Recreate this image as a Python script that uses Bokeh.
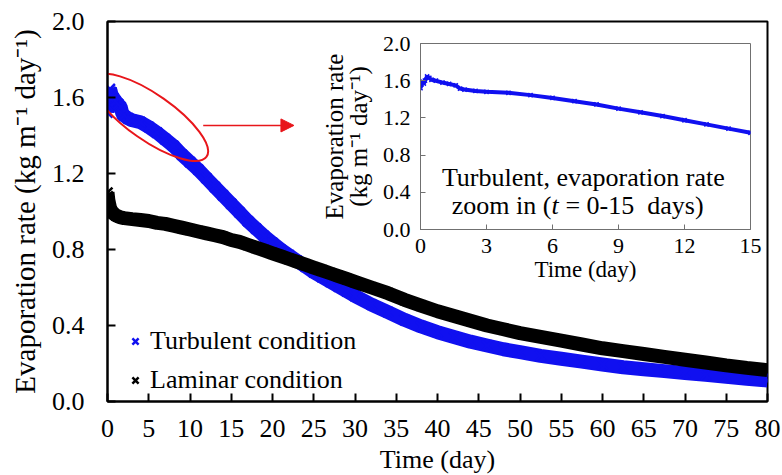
from bokeh.plotting import figure
from bokeh.models import (Range1d, FixedTicker, NumeralTickFormatter, Legend, LegendItem,
                          Label, Arrow, NormalHead, GridBox)
from bokeh.embed import file_html
from bokeh.resources import INLINE

# Evaporation rate (kg m^-1 day^-1) versus time (day)
turb_t = [0, 0.05, 0.1, 0.15, 0.2, 0.3, 0.4, 0.5, 0.7, 1.0, 1.3, 1.6, 1.8, 2.0, 2.5,
          3, 4, 5, 6, 7, 8, 9, 10, 11, 12, 13, 14, 15, 16, 17, 18, 19, 20,
          21, 22, 23, 24, 25, 26, 27, 28, 29, 30, 32, 34, 36, 38, 40, 42, 44, 46,
          48, 50, 52.5, 55, 57.5, 60, 62.5, 65, 67.5, 70, 72.5, 75, 77.5, 80]
turb_rate = [1.52, 1.56, 1.59, 1.57, 1.60, 1.645, 1.63, 1.61, 1.60, 1.58, 1.565, 1.55, 1.515, 1.505, 1.49,
             1.48, 1.47, 1.445, 1.415, 1.38, 1.345, 1.30, 1.26, 1.22, 1.175, 1.13, 1.085, 1.04, 0.995, 0.95, 0.91, 0.87, 0.835,
             0.80, 0.77, 0.74, 0.71, 0.68, 0.655, 0.63, 0.605, 0.58, 0.555, 0.51, 0.47, 0.43, 0.395, 0.365, 0.34, 0.315, 0.295,
             0.275, 0.26, 0.24, 0.225, 0.21, 0.195, 0.18, 0.17, 0.16, 0.15, 0.14, 0.13, 0.12, 0.11]

lam_t = [0, 0.05, 0.1, 0.2, 0.3, 0.5, 0.7, 1, 1.5, 2, 3, 4, 5, 6, 7, 8, 9, 10,
         11, 12, 13, 14, 15, 16, 17, 18, 19, 20, 21, 22, 23, 24, 25, 26, 27, 28, 29, 30,
         32, 34, 36, 38, 40, 42, 44, 46, 48, 50, 52.5, 55, 57.5, 60, 62.5, 65, 67.5, 70,
         72.5, 75, 77.5, 80]
lam_rate = [1.10, 1.08, 1.06, 1.04, 1.02, 1.00, 0.99, 0.98, 0.97, 0.965, 0.96, 0.955, 0.95, 0.94, 0.935, 0.925, 0.915, 0.905,
            0.895, 0.885, 0.875, 0.865, 0.85, 0.84, 0.825, 0.81, 0.795, 0.78, 0.765, 0.75, 0.735, 0.72, 0.705, 0.69, 0.675, 0.66, 0.645, 0.63,
            0.60, 0.57, 0.535, 0.505, 0.475, 0.45, 0.425, 0.40, 0.38, 0.36, 0.34, 0.32, 0.30, 0.28, 0.265, 0.25, 0.235, 0.22,
            0.205, 0.19, 0.177, 0.165]

x_ticks = list(range(0, 81, 5))
y_ticks = [0.0, 0.4, 0.8, 1.2, 1.6, 2.0]
inset_x_ticks = [0, 3, 6, 9, 12, 15]
inset_t_max = 15

series_names = ["Turbulent condition", "Laminar condition"]
BLUE = "#1010f0"
BLACK = "#000000"
RED = "#e8161b"
FONT = "Liberation Serif"

# Highlight ellipse and pointer toward the zoomed panel (data position, screen size)
zoom_center = (5.2, 1.495)
zoom_size = (137, 46)
zoom_angle = -0.61
pointer_from = (11.6, 1.453)
pointer_to = (22.6, 1.453)

# Both panels share one grid cell, which aligns their frame borders, so they get equal borders
BORDERS = dict(min_border_left=107, min_border_right=15, min_border_top=21, min_border_bottom=74)


def style_axes(fig, tick_size, label_size, tick_len, axis_color, axis_width):
    for ax in (fig.xaxis[0], fig.yaxis[0]):
        ax.major_label_text_font = FONT
        ax.axis_label_text_font = FONT
        ax.major_label_text_font_size = tick_size
        ax.axis_label_text_font_size = label_size
        ax.axis_label_text_font_style = "normal"
        ax.major_label_text_color = "#000000"
        ax.axis_label_text_color = "#000000"
        ax.major_tick_in = tick_len
        ax.major_tick_out = 0
        ax.minor_tick_in = 0
        ax.minor_tick_out = 0
        ax.axis_line_color = axis_color
        ax.axis_line_width = axis_width
        ax.major_tick_line_color = axis_color
        ax.major_tick_line_width = axis_width


# ---------------- main panel ----------------
p = figure(frame_width=660, frame_height=380, output_backend="svg", toolbar_location=None,
           x_range=Range1d(0, 80), y_range=Range1d(0, 2.0), align="start", **BORDERS)
p.xgrid.visible = False
p.ygrid.visible = False
p.outline_line_color = "#000000"
p.outline_line_width = 2
p.background_fill_color = "white"
p.border_fill_color = "white"

p.line(turb_t, turb_rate, line_color=BLUE, line_width=14)
turb_pts = p.scatter(turb_t, turb_rate, marker="x", size=14, line_color=BLUE, line_width=2.5)
p.line(lam_t, lam_rate, line_color=BLACK, line_width=14)
lam_pts = p.scatter(lam_t, lam_rate, marker="x", size=14, line_color=BLACK, line_width=2.5)

p.xaxis.ticker = FixedTicker(ticks=x_ticks)
p.yaxis.ticker = FixedTicker(ticks=y_ticks)
p.yaxis.formatter = NumeralTickFormatter(format="0.0")
p.xaxis.axis_label = "Time (day)"
p.yaxis.axis_label = "Evaporation rate (kg m\u207b\u00b9 day\u207b\u00b9)"
style_axes(p, "26px", "26px", 8, "#000000", 2)
p.yaxis.axis_label_text_font_size = "29px"
p.xaxis.major_label_standoff = 18
p.yaxis.major_label_standoff = 23
p.xaxis.axis_label_standoff = 5
p.yaxis.axis_label_standoff = 8

p.ellipse(x=[zoom_center[0]], y=[zoom_center[1]], width=zoom_size[0], height=zoom_size[1],
          angle=zoom_angle, width_units="screen", height_units="screen",
          fill_alpha=0, line_color=RED, line_width=2)
p.add_layout(Arrow(end=NormalHead(size=13, fill_color=RED, line_color=RED),
                   x_start=pointer_from[0], y_start=pointer_from[1],
                   x_end=pointer_to[0], y_end=pointer_to[1],
                   line_color=RED, line_width=1.5))

legend = Legend(items=[LegendItem(label=series_names[0], renderers=[turb_pts]),
                       LegendItem(label=series_names[1], renderers=[lam_pts])],
                location=(17, 6), border_line_alpha=0, background_fill_alpha=0,
                glyph_width=22, glyph_height=28, label_height=28, label_standoff=4,
                spacing=9, padding=0, margin=0)
legend.label_text_font = FONT
legend.label_text_font_size = "26px"
legend.label_text_color = "#000000"
p.add_layout(legend)

# ---------------- zoomed panel (t = 0-15 days) ----------------
sel = [i for i, t in enumerate(turb_t) if t <= inset_t_max]
in_t = [turb_t[i] for i in sel]
in_rate = [turb_rate[i] for i in sel]

q = figure(frame_width=330, frame_height=186, output_backend="svg", toolbar_location=None,
           x_range=Range1d(0, 15), y_range=Range1d(0, 2.0), align="start", **BORDERS)
q.xgrid.visible = False
q.ygrid.visible = False
q.outline_line_color = "#707070"
q.outline_line_width = 1
q.background_fill_color = "white"
q.border_fill_alpha = 0
q.margin = (22, 0, 0, 313)

q.line(in_t, in_rate, line_color=BLUE, line_width=4)
q.scatter(in_t, in_rate, marker="x", size=6, line_color=BLUE, line_width=1.5)

q.xaxis.ticker = FixedTicker(ticks=inset_x_ticks)
q.yaxis.ticker = FixedTicker(ticks=y_ticks)
q.yaxis.formatter = NumeralTickFormatter(format="0.0")
q.xaxis.axis_label = "Time (day)"
q.yaxis.axis_label = "Evaporation rate\n(kg m\u207b\u00b9 day\u207b\u00b9)"
style_axes(q, "22px", "23px", 5, "#707070", 1)
q.yaxis.axis_label_text_font_size = "25px"
q.yaxis.axis_label_text_line_height = 0.9
q.xaxis.major_label_standoff = 9
q.yaxis.major_label_standoff = 10
q.xaxis.axis_label_standoff = 1
q.yaxis.axis_label_standoff = 8

note_font = "26px"
note_style = dict(text_baseline="middle", text_font=FONT, text_font_size=note_font, text_color="#000000")
q.add_layout(Label(x=7.4, y=0.56, text="Turbulent, evaporation rate", text_align="center", **note_style))
q.add_layout(Label(x=5.95, y=0.26, text="zoom in (", text_align="right", **note_style))
q.add_layout(Label(x=5.95, y=0.26, text="t", text_align="left", text_font_style="italic", **note_style))
q.add_layout(Label(x=5.95, y=0.26, x_offset=14, text="= 0-15\u2002days)", text_align="left", **note_style))

layout = GridBox(children=[(p, 0, 0), (q, 0, 0)])

with open("out.html", "w") as f:
    f.write(file_html(layout, INLINE))
